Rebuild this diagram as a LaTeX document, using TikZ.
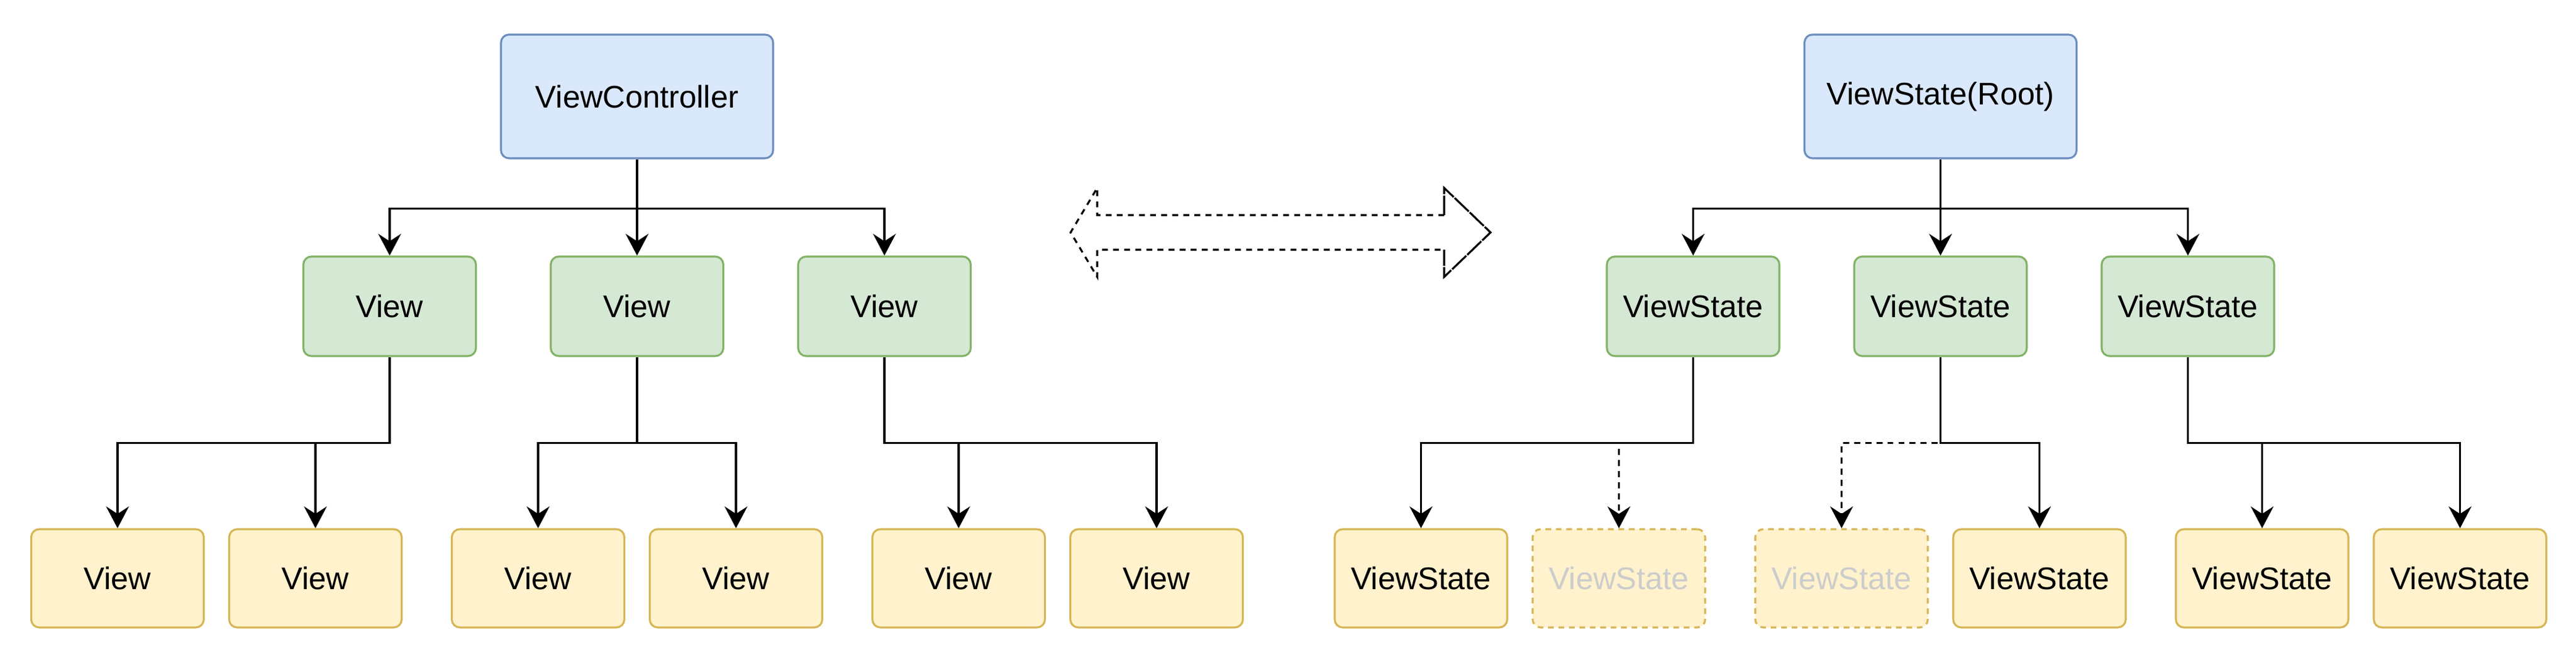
\documentclass[tikz,border=0pt]{standalone}
\usepackage{fontspec}
\setmainfont{Liberation Sans}
\usetikzlibrary{arrows.meta}
\definecolor{rootfill}{HTML}{DAE8FC}
\definecolor{rootline}{HTML}{6C8EBF}
\definecolor{midfill}{HTML}{D5E8D4}
\definecolor{midline}{HTML}{82B366}
\definecolor{leaffill}{HTML}{FFF2CC}
\definecolor{leafline}{HTML}{D6B656}
\definecolor{ghosttext}{HTML}{CCCCCC}
\begin{document}
\begin{tikzpicture}[
    box/.style={draw,rounded corners=0.13cm,line width=0.9pt,inner sep=0pt,minimum width=2.79cm,font=\fontsize{14.4}{17}\selectfont},
    rootbox/.style={box,fill=rootfill,draw=rootline,minimum width=4.40cm,minimum height=2.00cm},
    midbox/.style={box,fill=midfill,draw=midline,minimum height=1.61cm},
    leafbox/.style={box,fill=leaffill,draw=leafline,minimum height=1.59cm},
    ghostbox/.style={leafbox,dash pattern=on 2.6pt off 2.2pt,text=ghosttext},
    leafconn/.style={line width=0.9pt,-{Stealth[length=10pt,width=10.5pt,inset=3.4pt]}},
    ghostconn/.style={leafconn,dash pattern=on 2.8pt off 2.3pt},
]
    \useasboundingbox (0,0) rectangle (41.65,10.66);

    % left tree
    \node[rootbox] (vc) at (10.30,9.10) {ViewController};
    \foreach \i/\x in {1/6.30, 2/10.30, 3/14.30}
    {
    \node[midbox] (v\i) at (\x,5.705) {View};
    \draw[leafconn] (vc.south) -- ++(0,-0.80) -| (v\i.north);
    }
    \foreach \j/\x/\p in {1/1.90/1, 2/5.10/1, 3/8.70/2, 4/11.90/2, 5/15.50/3, 6/18.70/3}
    {
    \node[leafbox] (l\j) at (\x,1.305) {View};
    \draw[leafconn] (v\p.south) -- ++(0,-1.39) -| (l\j.north);
    }

    % double arrow
    \draw[line width=0.9pt,dash pattern=on 2.7pt off 2.4pt]
        (23.35,7.18) -- (17.74,7.18) -- (17.74,7.62) -- (17.31,6.90)
        -- (17.74,6.18) -- (17.74,6.62) -- (23.35,6.62);
    \draw[line width=0.9pt,line join=miter,dash pattern=on 9pt off 0.6pt]
        (23.35,7.18) -- (23.35,7.62) -- (24.10,6.90) -- (23.35,6.18) -- (23.35,6.62);

    % right tree
    \node[rootbox] (vs) at (31.375,9.10) {ViewState(Root)};
    \foreach \i/\x in {1/27.375, 2/31.375, 3/35.375}
    {
    \node[midbox] (s\i) at (\x,5.705) {ViewState};
    \draw[leafconn] (vs.south) -- ++(0,-0.80) -| (s\i.north);
    }
    \foreach \j/\x/\p/\kind in {1/22.975/1/leaf, 2/26.175/1/ghost, 3/29.775/2/ghost, 4/32.975/2/leaf, 5/36.575/3/leaf, 6/39.775/3/leaf}
    {
    \node[\kind box] (r\j) at (\x,1.305) {ViewState};
    \draw[\kind conn] (s\p.south) -- ++(0,-1.39) -| (r\j.north);
    }
    %\draw[help lines] (0,0) grid (41,10);
\end{tikzpicture}
\end{document}
